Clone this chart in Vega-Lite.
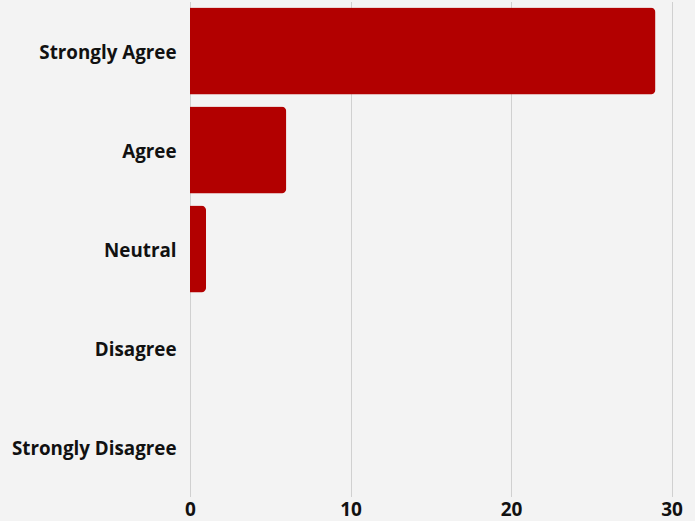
{
  "$schema": "https://vega.github.io/schema/vega-lite/v6.json",
  "width": 481.5,
  "height": 495,
  "autosize": {"type": "none"},
  "padding": {"left": 190, "top": 1.5, "right": 23.5, "bottom": 24.5},
  "background": "#f3f3f3",
  "config": {"view": {"stroke": null}},
  "data": {"values": [
    {"response": "Strongly Agree", "count": 29},
    {"response": "Agree", "count": 6},
    {"response": "Neutral", "count": 1},
    {"response": "Disagree", "count": 0},
    {"response": "Strongly Disagree", "count": 0}
  ]},
  "mark": {"type": "bar", "color": "#b20000", "cornerRadiusEnd": 5},
  "encoding": {
    "y": {
      "field": "response", "type": "nominal",
      "sort": ["Strongly Agree", "Agree", "Neutral", "Disagree", "Strongly Disagree"],
      "scale": {"paddingInner": 0.12, "paddingOuter": 0.06},
      "axis": {"title": null, "ticks": false, "domain": false, "labelPadding": 14, "labelOffset": 2,
        "labelFont": "Open Sans", "labelFontWeight": "bold", "labelFontSize": 18.8, "labelColor": "#111111"}
    },
    "x": {
      "field": "count", "type": "quantitative",
      "scale": {"domain": [0, 30], "nice": false},
      "axis": {"title": null, "values": [0, 10, 20, 30], "ticks": false, "domain": false, "labelFlush": false,
        "gridColor": "#d0d0d0", "gridWidth": 1, "labelPadding": 4,
        "labelFont": "Open Sans", "labelFontWeight": "bold", "labelFontSize": 19, "labelColor": "#111111"}
    }
  }
}
